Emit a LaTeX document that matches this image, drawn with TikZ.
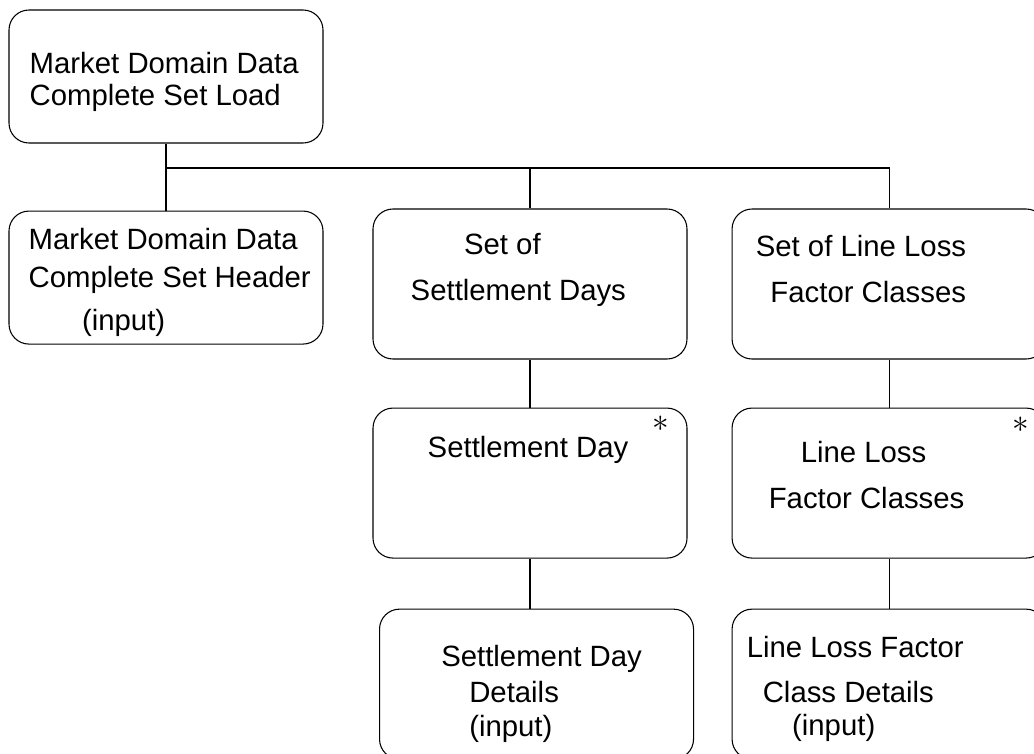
\documentclass[tikz,border=0pt]{standalone}
\usepackage{fontspec}
\setmainfont{Liberation Sans}
\usetikzlibrary{positioning,calc}

\begin{document}
\begin{tikzpicture}[
    x=0.75pt, y=-0.75pt,
    grp/.style={rectangle, draw, line width=0.8pt, rounded corners=15pt,
                minimum width=235.5pt, minimum height=112.5pt, inner sep=0pt},
    hdr/.style={grp, minimum height=99.75pt},
    lbl/.style={anchor=north west, inner sep=0pt, align=left,
                font=\fontsize{22}{24}\selectfont},
    rep/.style={inner sep=0pt, font=\fontsize{34}{34}\selectfont},
    link/.style={line width=0.8pt}
  ]
  \useasboundingbox (0,0) rectangle (1034,753);

  % --- load and header ---
  \node[hdr] (load) at (166,76.5) {};
  \node[hdr, below=50.25pt of load] (header) {};

  % --- settlement days column ---
  \node[grp] (sdays) at (530,284) {};
  \node[grp, below=36pt of sdays] (sday) {};
  \node[grp, below=37.5pt of sday, xshift=4.9pt] (sdetail) {};

  % --- line loss factor column ---
  \node[grp, right=33pt of sdays] (llfsets) {};
  \node[grp, below=36pt of llfsets] (llfc) {};
  \node[grp, below=37.5pt of llfc] (llfdetail) {};

  % labels
  \node[lbl] (tload) at ($(load.north west)+(21,43)$)
    {Market Domain Data\\Complete Set Load};
  \node[lbl] (theader) at ($(header.north west)+(20,17)$)
    {Market Domain Data\\[5pt]Complete Set Header\\[8pt]\hspace*{40pt}(input)};
  \node[lbl] (tsdays) at ($(sdays.north west)+(38,25)$)
    {\hspace*{40pt}Set of\\[10pt]Settlement Days};
  \node[lbl] (tllfsets) at ($(llfsets.north west)+(24,27)$)
    {Set of Line Loss\\[10pt]\hspace*{11pt}Factor Classes};
  \node[lbl] (tsday) at ($(sday.north west)+(55,28)$) {Settlement Day};
  \node[lbl] (tllfc) at ($(llfc.north west)+(37,33)$)
    {\hspace*{24pt}Line Loss\\[11pt]Factor Classes};
  \node[lbl] (tsdetail) at ($(sdetail.north west)+(62,36)$)
    {Settlement Day\\[3pt]\hspace*{21pt}Details\\[2pt]\hspace*{21pt}(input)};
  \node[lbl] (tllfdetail) at ($(llfdetail.north west)+(15,27)$)
    {Line Loss Factor\\[10pt]\hspace*{12pt}Class Details\\[1pt]\hspace*{34pt}(input)};

  % iteration marks
  \node[rep] (isday) at ($(sday.north east)+(-27,16)$) {$\ast$};
  \node[rep] (illfc) at ($(llfc.north east)+(-26,17)$) {$\ast$};

  % connectors
  \coordinate (bus) at (0,168);
  \draw[link] (load.south) |- (llfsets.north |- bus) -- (llfsets.north);
  \draw[link] (header.north) -- (header.north |- bus);
  \draw[link] (sdays.north) -- (sdays.north |- bus);
  \draw[link] (sdays.south) -- (sday.north);
  \draw[link] (sday.south) -- (sday.south |- sdetail.north);
  \draw[link] (llfsets.south) -- (llfc.north);
  \draw[link] (llfc.south) -- (llfdetail.north);
\end{tikzpicture}
\end{document}
